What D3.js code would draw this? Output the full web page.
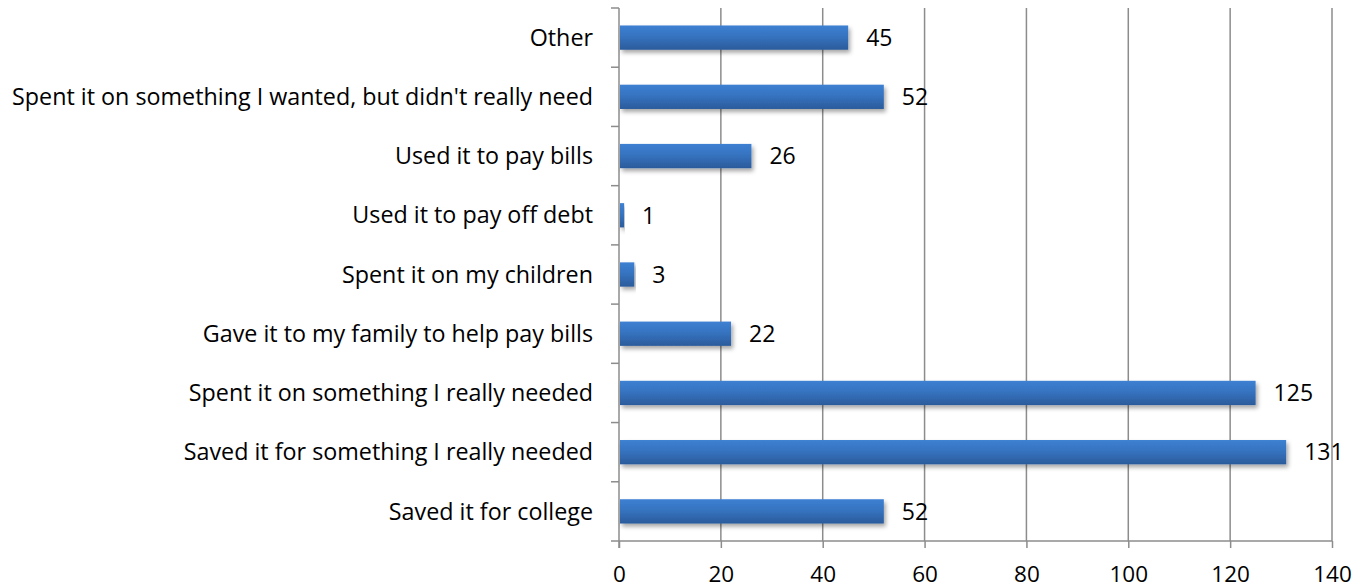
<!DOCTYPE html>
<html>
<head>
<script src="https://cdn.jsdelivr.net/npm/d3@7"></script>
<style>
  body { margin: 0; background: #fff; }
  svg { display: block; font-family: "Open Sans", Lato, sans-serif; }
  .grid line { stroke: #8c8c8c; stroke-width: 1.5; }
  .axis path, .axis line { stroke: #8c8c8c; stroke-width: 1.5; }
</style>
</head>
<body>
<svg width="1369" height="588"></svg>
<script>
const categories = [
  "Other",
  "Spent it on something I wanted, but didn't really need",
  "Used it to pay bills",
  "Used it to pay off debt",
  "Spent it on my children",
  "Gave it to my family to help pay bills",
  "Spent it on something I really needed",
  "Saved it for something I really needed",
  "Saved it for college"
];
const values = [45, 52, 26, 1, 3, 22, 125, 131, 52];
const xTicks = [0, 20, 40, 60, 80, 100, 120, 140];

const svg = d3.select("svg");
const plotLeft = 619, plotRight = 1332, plotTop = 8, plotBottom = 541;

const x = d3.scaleLinear().domain([0, 140]).range([plotLeft, plotRight]);
const y = d3.scaleBand().domain(categories).range([plotTop, plotBottom]).paddingInner(0.59).paddingOuter(0.295);

const defs = svg.append("defs");
const grad = defs.append("linearGradient").attr("id", "barGrad")
  .attr("x1", 0).attr("y1", 0).attr("x2", 0).attr("y2", 1);
grad.append("stop").attr("offset", "0%").attr("stop-color", "#3d80d2");
grad.append("stop").attr("offset", "45%").attr("stop-color", "#3673c0");
grad.append("stop").attr("offset", "100%").attr("stop-color", "#2b5b9b");
const filt = defs.append("filter").attr("id", "shadow")
  .attr("x", "-5%").attr("y", "-30%").attr("width", "115%").attr("height", "180%");
filt.append("feDropShadow").attr("dx", 2).attr("dy", 3).attr("stdDeviation", 2.2)
  .attr("flood-color", "#000").attr("flood-opacity", 0.35);

// vertical gridlines
svg.append("g").attr("class", "grid")
  .selectAll("line").data(xTicks.slice(1)).join("line")
  .attr("x1", d => x(d)).attr("x2", d => x(d))
  .attr("y1", plotTop).attr("y2", plotBottom);

// x axis
const xAxis = svg.append("g").attr("class", "axis")
  .attr("transform", `translate(0,${plotBottom})`)
  .call(d3.axisBottom(x).tickValues(xTicks).tickSize(7).tickSizeOuter(0).tickPadding(18));
xAxis.select(".domain").attr("d", `M${plotLeft - 8},0H${plotRight}`);
xAxis.selectAll("text").attr("font-size", 22.5).attr("fill", "#000").attr("font-family", "'Open Sans', sans-serif");

// y axis with ticks at band boundaries
const yAxis = svg.append("g").attr("class", "axis");
yAxis.append("line").attr("x1", plotLeft).attr("x2", plotLeft).attr("y1", plotTop).attr("y2", plotBottom + 7);
const step = y.step();
const bounds = d3.range(categories.length).map(i => plotTop + i * step);
yAxis.selectAll("line.tk").data(bounds).join("line").attr("class", "tk")
  .attr("x1", plotLeft - 8).attr("x2", plotLeft).attr("y1", d => d).attr("y2", d => d);

// category labels
svg.append("g").selectAll("text").data(categories).join("text")
  .attr("x", plotLeft - 26)
  .attr("y", d => y(d) + y.bandwidth() / 2)
  .attr("dy", "0.35em")
  .attr("text-anchor", "end")
  .attr("font-size", 23.3)
  .attr("fill", "#000")
  .text(d => d);

// bars
svg.append("g").selectAll("rect").data(values).join("rect")
  .attr("x", x(0) + 1)
  .attr("y", (d, i) => y(categories[i]))
  .attr("width", d => x(d) - x(0) - 1)
  .attr("height", y.bandwidth())
  .attr("fill", "url(#barGrad)")
  .attr("filter", "url(#shadow)");

// value labels
svg.append("g").selectAll("text").data(values).join("text")
  .attr("x", d => x(d) + 18)
  .attr("y", (d, i) => y(categories[i]) + y.bandwidth() / 2)
  .attr("dy", "0.36em")
  .attr("font-size", 23)
  .attr("fill", "#000")
  .text(d => d);
</script>
</body>
</html>
